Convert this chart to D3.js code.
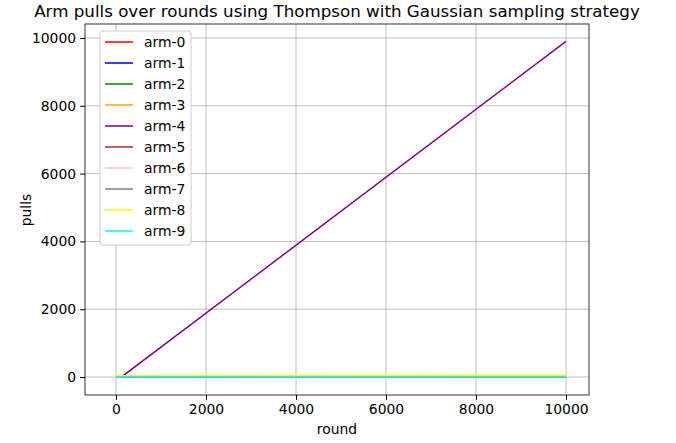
<!DOCTYPE html><html><head><script src="https://cdn.jsdelivr.net/npm/d3@7"></script>
<style>body{margin:0;background:#fff}text{font-family:"DejaVu Sans",sans-serif}</style></head><body>
<svg width="676" height="443"></svg>
<script>
const arms=["arm-0","arm-1","arm-2","arm-3","arm-4","arm-5","arm-6","arm-7","arm-8","arm-9"];
const colors=["red","blue","green","orange","purple","brown","pink","gray","yellow","cyan"];
const rounds=[0,130,10000];
const pulls=[[1,8,10],[1,8,10],[1,8,10],[1,8,10],[1,10,9900],[1,8,10],[1,8,10],[1,8,10],[30,40,50],[1,8,10]];
const xTicks=[0,2000,4000,6000,8000,10000], yTicks=[0,2000,4000,6000,8000,10000];
const svg=d3.select("svg");
const L=85,R=589,T=24,B=395;
const x=d3.scaleLinear().domain([-689,10511]).range([L,R]);
const y=d3.scaleLinear().domain([-531,10413]).range([B,T]);
const g=svg.append("g");
g.selectAll(".gx").data(xTicks).enter().append("line").attr("x1",d=>x(d)).attr("x2",d=>x(d)).attr("y1",T).attr("y2",B).attr("stroke","#b0b0b0").attr("stroke-width",0.8);
g.selectAll(".gy").data(yTicks).enter().append("line").attr("y1",d=>y(d)).attr("y2",d=>y(d)).attr("x1",L).attr("x2",R).attr("stroke","#b0b0b0").attr("stroke-width",0.8);
const line=d3.line().x((d,i)=>x(rounds[i])).y(d=>y(d));
pulls.forEach((p,i)=>g.append("path").datum(p).attr("d",line).attr("fill","none").attr("stroke",colors[i]).attr("stroke-width",1.5));
svg.append("g").attr("transform",`translate(0,${B})`).call(d3.axisBottom(x).tickValues(xTicks).tickFormat(d3.format("d")).tickSize(4.9).tickPadding(4)).call(a=>a.select(".domain").remove());
svg.append("g").attr("transform",`translate(${L},0)`).call(d3.axisLeft(y).tickValues(yTicks).tickFormat(d3.format("d")).tickSize(4.9).tickPadding(4)).call(a=>a.select(".domain").remove());
svg.selectAll(".tick text").attr("font-size",13.9).attr("fill","#000").attr("font-family","DejaVu Sans");
svg.selectAll(".tick line").attr("stroke","#000");
svg.append("rect").attr("x",L).attr("y",T).attr("width",R-L).attr("height",B-T).attr("fill","none").attr("stroke","#000").attr("stroke-width",0.8);
svg.append("text").attr("x",(L+R)/2).attr("y",17).attr("text-anchor","middle").attr("font-size",16.7).text("Arm pulls over rounds using Thompson with Gaussian sampling strategy");
svg.append("text").attr("x",(L+R)/2).attr("y",434).attr("text-anchor","middle").attr("font-size",13.9).text("round");
svg.append("text").attr("transform","translate(31,210)rotate(-90)").attr("text-anchor","middle").attr("font-size",13.9).text("pulls");
const lg=svg.append("g").attr("transform","translate(100,31)");
lg.append("rect").attr("width",91).attr("height",214).attr("fill","#fff").attr("stroke","#ccc").attr("rx",3);
arms.forEach((a,i)=>{const yy=11+i*21;
lg.append("line").attr("x1",5).attr("x2",33).attr("y1",yy).attr("y2",yy).attr("stroke",colors[i]).attr("stroke-width",1.5);
lg.append("text").attr("x",44).attr("y",yy+5).attr("font-size",13.9).text(a);});
</script></body></html>
